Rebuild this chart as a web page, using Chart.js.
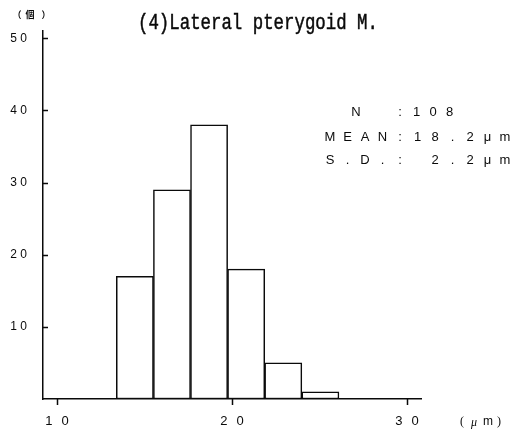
<!DOCTYPE html>
<html>
<head>
<meta charset="utf-8">
<script src="https://cdn.jsdelivr.net/npm/chart.js@4"></script>
<style>
  html, body { margin: 0; padding: 0; background: #fff; }
  canvas { display: block; }
</style>
</head>
<body>
<canvas id="histChart" width="519" height="436"></canvas>
<script>
// fibre diameter histogram - lateral pterygoid
const binCentres = [14.45, 16.57, 18.69, 20.81, 22.93, 25.05]; // µm
const fibreCounts = [17, 29, 38, 18, 5, 1];
const xTicks = [10, 20, 30];
const yTicks = [10, 20, 30, 40, 50];
const chartTitle = '(4)Lateral pterygoid M.';
const statN = '108';
const statMean = '18.2';
const statSD = '2.2';

const ink = '#0a0a0a';

// spaced-out digits like the old plotter output
function spaced(v, gap) {
  return String(v).split('').join(gap);
}

// draw characters one per cell, fixed pitch
function drawCells(ctx, text, x0, y, pitch) {
  ctx.textAlign = 'center';
  [...text].forEach((ch, i) => {
    if (ch !== ' ') ctx.fillText(ch, x0 + i * pitch, y);
  });
}

const decor = {
  id: 'decor',
  afterDraw(chart) {
    const ctx = chart.ctx;
    const xs = chart.scales.x, ys = chart.scales.y;
    ctx.save();

    // tick marks: inward on y, downward on x
    ctx.strokeStyle = ink;
    ctx.lineWidth = 1.5;
    ctx.beginPath();
    yTicks.forEach(v => {
      const py = Math.round(ys.getPixelForValue(v)) + 0.5;
      ctx.moveTo(xs.left, py);
      ctx.lineTo(xs.left + 5, py);
    });
    xTicks.forEach(v => {
      const px = Math.round(xs.getPixelForValue(v)) + 0.5;
      ctx.moveTo(px, ys.bottom);
      ctx.lineTo(px, ys.bottom + 6);
    });
    ctx.stroke();

    ctx.fillStyle = ink;
    ctx.textBaseline = 'alphabetic';

    // title, condensed mono, slightly heavier stroke
    ctx.save();
    ctx.font = '22px "Liberation Mono"';
    ctx.translate(138, 29);
    ctx.scale(0.79, 1);
    ctx.textAlign = 'left';
    ctx.lineWidth = 0.5;
    ctx.fillText(chartTitle, 0, 0);
    ctx.strokeText(chartTitle, 0, 0);
    ctx.restore();

    // unit of the count axis
    ctx.textBaseline = 'middle';
    ctx.font = 'bold 9px "Noto Sans CJK JP"';
    ctx.textAlign = 'center';
    ctx.fillText('（', 17, 15);
    ctx.fillText('個', 30, 15);
    ctx.fillText('）', 46, 15);

    // unit of the size axis
    ctx.font = '12px "Liberation Serif"';
    ctx.fillText('(', 462, 422);
    ctx.font = 'italic 12px "Liberation Serif"';
    ctx.fillText('μ', 474, 423);
    ctx.font = '12px "Liberation Sans"';
    ctx.fillText('m', 488, 422);
    ctx.font = '12px "Liberation Serif"';
    ctx.fillText(')', 499, 422);

    // summary statistics
    ctx.font = '13px "Liberation Sans"';
    ctx.textBaseline = 'middle';
    const pitch = 17.5;
    drawCells(ctx, 'N', 356, 112, pitch);
    drawCells(ctx, ':' + statN, 400, 112, 16.5);
    drawCells(ctx, 'MEAN:' + statMean + 'μm', 330, 137, pitch);
    drawCells(ctx, 'S.D.: ' + statSD + 'μm', 330, 160, pitch);

    ctx.restore();
  }
};

new Chart(document.getElementById('histChart'), {
  type: 'bar',
  data: {
    datasets: [{
      data: binCentres.map((x, i) => ({ x: x, y: fibreCounts[i] })),
      backgroundColor: '#fff',
      borderColor: ink,
      borderWidth: 1.5,
      borderSkipped: false,
      barPercentage: 1,
      categoryPercentage: 1
    }]
  },
  options: {
    responsive: false,
    devicePixelRatio: 1,
    animation: false,
    layout: { padding: { left: 0, top: 31, right: 98, bottom: 0 } },
    plugins: {
      legend: { display: false },
      tooltip: { enabled: false },
      title: { display: false }
    },
    scales: {
      x: {
        type: 'linear',
        offset: false,
        min: 9.2,
        max: 30.8,
        afterBuildTicks: s => { s.ticks = xTicks.map(v => ({ value: v })); },
        afterFit: s => { s.height = 37; },
        grid: { display: false, drawTicks: false },
        border: { display: true, color: ink, width: 1.5 },
        ticks: {
          padding: 15,
          color: ink,
          font: { family: '"Liberation Sans"', size: 13 },
          maxRotation: 0,
          autoSkip: false,
          callback: v => spaced(v, '\u2002\u2009')
        }
      },
      y: {
        min: 0,
        max: 51,
        afterBuildTicks: s => { s.ticks = yTicks.map(v => ({ value: v })); },
        afterFit: s => { s.width = 43; },
        grid: { display: false, drawTicks: false },
        border: { display: true, color: ink, width: 1.5 },
        ticks: {
          padding: 16,
          color: ink,
          font: { family: '"Liberation Sans"', size: 12 },
          callback: v => spaced(v, ' ')
        }
      }
    }
  },
  plugins: [decor]
});
</script>
</body>
</html>
